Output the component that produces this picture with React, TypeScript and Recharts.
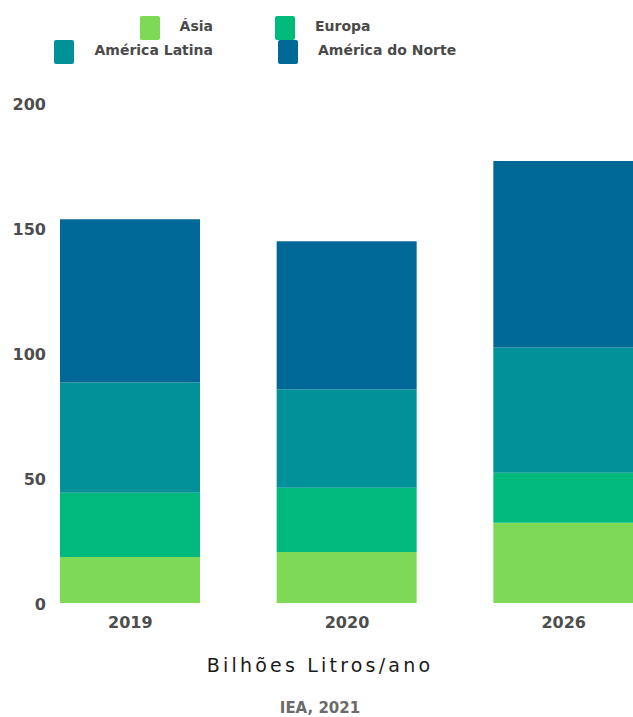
import { BarChart, Bar, XAxis, YAxis, Legend } from 'recharts';

const years = ['2019', '2020', '2026'];
const asia = [18.4, 20.4, 32.1];
const europa = [25.7, 25.7, 20.0];
const americaLatina = [44.1, 39.3, 50.1];
const americaNorte = [65.3, 59.3, 74.6];
const yTicks = [0, 50, 100, 150, 200];

const series = [
  { key: 'asia', name: 'Ásia', color: '#7ed957', values: asia },
  { key: 'europa', name: 'Europa', color: '#00b97c', values: europa },
  { key: 'latina', name: 'América Latina', color: '#009199', values: americaLatina },
  { key: 'norte', name: 'América do Norte', color: '#006896', values: americaNorte },
];

const data = years.map((year, i) => {
  const row: Record<string, string | number> = { year };
  series.forEach((s) => {
    row[s.key] = s.values[i];
  });
  return row;
});

const FONT = '"DejaVu Sans", sans-serif';

function renderLegend(props: any) {
  // keep the legend in series order (stacked bars come back reversed)
  const payload = [...(props.payload || [])].sort(
    (a: any, b: any) =>
      series.findIndex((s) => s.name === a.value) - series.findIndex((s) => s.name === b.value)
  );
  return (
    <div
      style={{
        display: 'grid',
        gridTemplateColumns: '213px 1fr',
        columnGap: 62,
        paddingTop: 16,
        fontFamily: FONT,
        fontWeight: 700,
        fontSize: 14,
        color: '#4a4a4a',
      }}
    >
      {payload.map((entry: any, i: number) => (
        <div
          key={entry.value}
          style={{
            display: 'flex',
            alignItems: 'center',
            justifyContent: i % 2 === 0 ? 'flex-end' : 'flex-start',
            height: 24,
            marginLeft: i === 3 ? 3 : 0,
          }}
        >
          <span
            style={{
              display: 'inline-block',
              width: 20,
              height: 24,
              borderRadius: 2,
              background: entry.color,
              marginRight: 20,
            }}
          />
          <span style={{ marginTop: -4 }}>{entry.value}</span>
        </div>
      ))}
    </div>
  );
}

function YTick(props: any) {
  const { y, payload } = props;
  return (
    <text
      x={46}
      y={y}
      dy="0.46em"
      textAnchor="end"
      fill="#4d4d4d"
      fontFamily={FONT}
      fontWeight={700}
      fontSize={16}
    >
      {payload.value}
    </text>
  );
}

export default function App() {
  return (
    <div
      style={{
        position: 'fixed',
        left: 0,
        top: 0,
        width: 633,
        height: 717,
        overflow: 'hidden',
        background: '#fff',
      }}
    >
      <BarChart
        width={680}
        height={717}
        data={data}
        margin={{ top: 103, right: 8, left: 0, bottom: 84 }}
      >
        <XAxis
          dataKey="year"
          axisLine={false}
          tickLine={false}
          tickSize={0}
          tickMargin={14}
          height={30}
          tick={{ fill: '#4d4d4d', fontFamily: FONT, fontWeight: 700, fontSize: 16 }}
        />
        <YAxis
          width={22}
          domain={[0, 200]}
          ticks={yTicks}
          axisLine={false}
          tickLine={false}
          tick={<YTick />}
        />
        <Legend
          verticalAlign="middle"
          align="center"
          content={renderLegend}
          wrapperStyle={{ top: 0, left: 0, width: 633, height: 70 }}
        />
        {series.map((s) => (
          <Bar
            key={s.key}
            dataKey={s.key}
            name={s.name}
            stackId="a"
            fill={s.color}
            barSize={140}
            isAnimationActive={false}
          />
        ))}
      </BarChart>
      <div
        style={{
          position: 'absolute',
          left: 0,
          width: 640,
          top: 654,
          textAlign: 'center',
          fontFamily: FONT,
          fontSize: 19,
          letterSpacing: 3.2,
          color: '#1a1a1a',
        }}
      >
        Bilhões Litros/ano
      </div>
      <div
        style={{
          position: 'absolute',
          left: 0,
          width: 640,
          top: 699,
          textAlign: 'center',
          fontFamily: FONT,
          fontWeight: 700,
          fontSize: 15,
          color: '#6b6b6b',
        }}
      >
        IEA, 2021
      </div>
    </div>
  );
}
